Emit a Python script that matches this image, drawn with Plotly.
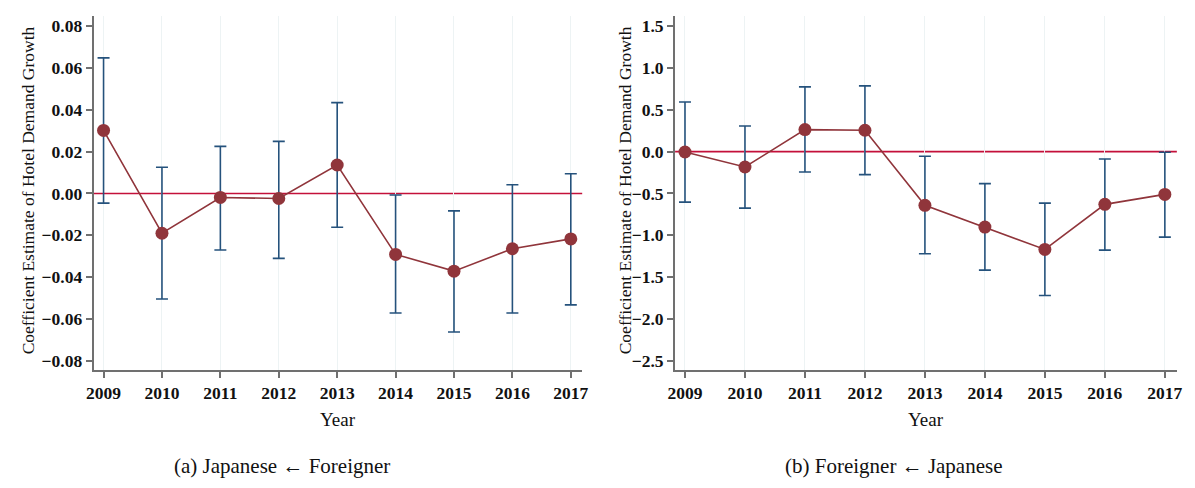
import plotly.graph_objects as go

years = [2009, 2010, 2011, 2012, 2013, 2014, 2015, 2016, 2017]

# Panel (a): Japanese <- Foreigner
coef_a = [0.0301, -0.0190, -0.0019, -0.0024, 0.0136, -0.0291, -0.0371, -0.0264, -0.0217]
lo_a = [-0.0046, -0.0504, -0.0270, -0.0310, -0.0161, -0.0571, -0.0662, -0.0571, -0.0532]
hi_a = [0.0648, 0.0125, 0.0225, 0.0249, 0.0434, -0.0007, -0.0083, 0.0042, 0.0094]

# Panel (b): Foreigner <- Japanese
coef_b = [-0.005, -0.184, 0.263, 0.255, -0.642, -0.902, -1.169, -0.630, -0.511]
lo_b = [-0.603, -0.675, -0.244, -0.275, -1.220, -1.416, -1.719, -1.177, -1.021]
hi_b = [0.593, 0.306, 0.773, 0.785, -0.056, -0.383, -0.615, -0.088, -0.008]

yticks_a = [-0.08, -0.06, -0.04, -0.02, 0.00, 0.02, 0.04, 0.06, 0.08]
yticks_b = [-2.5, -2.0, -1.5, -1.0, -0.5, 0.0, 0.5, 1.0, 1.5]

ytitle = "Coefficient Estimate of Hotel Demand Growth"
xtitle = "Year"
captions = ["(a) Japanese \u2190 Foreigner", "(b) Foreigner \u2190 Japanese"]

NAVY = "#25527c"
MAROON = "#90353b"
ZERO = "#c4103a"
AXIS = "#707070"
GRID = "#edf3f4"
TICKFONT = dict(family="Liberation Serif", size=17.5, color="#111111", weight="bold")

W, H = 1195, 488

fig = go.Figure()

panels = [
    dict(coef=coef_a, lo=lo_a, hi=hi_a, xa="x", ya="y"),
    dict(coef=coef_b, lo=lo_b, hi=hi_b, xa="x2", ya="y2"),
]

for p in panels:
    plus = [h - c for h, c in zip(p["hi"], p["coef"])]
    minus = [c - l for c, l in zip(p["coef"], p["lo"])]
    fig.add_trace(go.Scatter(
        x=years, y=p["coef"], mode="markers", xaxis=p["xa"], yaxis=p["ya"],
        marker=dict(size=1, color="rgba(0,0,0,0)"),
        error_y=dict(type="data", symmetric=False, array=plus, arrayminus=minus,
                     color=NAVY, thickness=1.6, width=6),
        showlegend=False, hoverinfo="skip",
    ))
    fig.add_trace(go.Scatter(
        x=years, y=p["coef"], mode="lines+markers", xaxis=p["xa"], yaxis=p["ya"],
        line=dict(color=MAROON, width=1.6),
        marker=dict(size=13, color=MAROON),
        showlegend=False,
    ))

dom_y = [(H - 370.7) / H, (H - 16) / H]
dom_xa = [86.7 / W, 581 / W]
dom_xb = [675 / W, 1182.7 / W]

def xaxis(domain, rng, anchor):
    return dict(domain=domain, range=rng, anchor=anchor,
                tickvals=years, ticktext=[str(y) for y in years],
                showgrid=True, gridcolor=GRID, gridwidth=1.2,
                zeroline=False, showline=True, linecolor=AXIS, linewidth=2,
                ticks="outside", ticklen=6, tickwidth=1.5, tickcolor=AXIS,
                tickfont=TICKFONT)

def yaxis(domain, rng, anchor, vals, fmt):
    return dict(domain=domain, range=rng, anchor=anchor,
                tickvals=vals, tickformat=fmt,
                showgrid=False, zeroline=False, showline=True, linecolor=AXIS, linewidth=2,
                ticks="outside", ticklen=6, tickwidth=1.5, tickcolor=AXIS,
                tickfont=TICKFONT)

fig.update_layout(
    width=W, height=H,
    margin=dict(l=0, r=0, t=0, b=0),
    paper_bgcolor="white", plot_bgcolor="white",
    xaxis=xaxis(dom_xa, [2008.831, 2017.195], "y"),
    yaxis=yaxis(dom_y, [-0.0843, 0.0848], "x", yticks_a, ".2f"),
    xaxis2=xaxis(dom_xb, [2008.835, 2017.2], "y2"),
    yaxis2=yaxis(dom_y, [-2.608, 1.62], "x2", yticks_b, ".1f"),
)

for xr, yr in [("x domain", "y"), ("x2 domain", "y2")]:
    fig.add_shape(type="line", xref=xr, yref=yr, x0=0, x1=1, y0=0, y1=0,
                  line=dict(color=ZERO, width=1.6), layer="below")

ann_font = dict(family="Liberation Serif", size=17.5, color="#111111")
for xc in [20 / W, 624 / W]:
    fig.add_annotation(x=xc, y=(H - 191) / H, xref="paper", yref="paper",
                       text=ytitle, textangle=-90, showarrow=False,
                       font=ann_font, xanchor="center", yanchor="middle")
for xc in [(86.7 + 581) / 2 / W, (675 + 1182.7) / 2 / W]:
    fig.add_annotation(x=xc, y=(H - 420) / H, xref="paper", yref="paper",
                       text=xtitle, showarrow=False,
                       font=dict(family="Liberation Serif", size=19, color="#111111"),
                       xanchor="center", yanchor="middle")
for xc, cap in zip([277 / W, 896 / W], captions):
    fig.add_annotation(x=xc, y=(H - 467) / H, xref="paper", yref="paper",
                       text=cap, showarrow=False,
                       font=dict(family="Liberation Serif", size=21, color="#111111"),
                       xanchor="center", yanchor="middle")

fig.write_html("out.html", config={"displayModeBar": False},
               post_script="document.body.style.margin='0';document.body.style.overflow='hidden';")
